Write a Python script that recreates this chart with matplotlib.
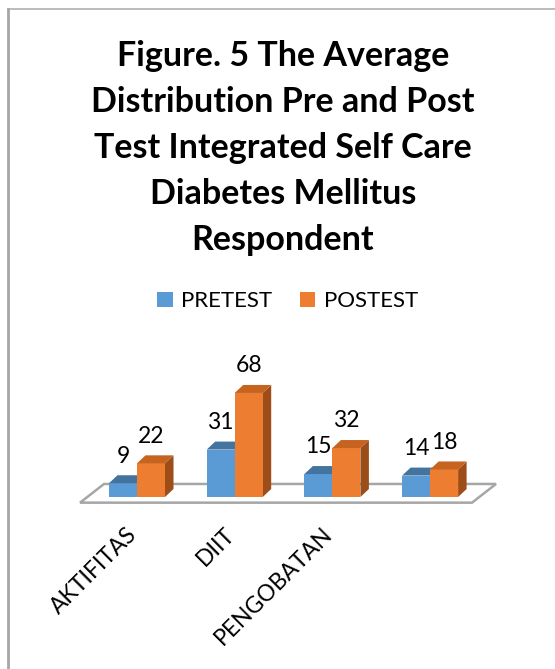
import numpy as np
import matplotlib
matplotlib.use("Agg")
import matplotlib.pyplot as plt
import matplotlib.transforms as mtransforms
from matplotlib.patches import Polygon
from matplotlib.lines import Line2D

categories = ["AKTIFITAS", "DIIT", "PENGOBATAN", ""]
pretest = [9, 31, 15, 14]
postest = [22, 68, 32, 18]
series_names = ["PRETEST", "POSTEST"]

plt.rcParams['font.family'] = ['Lato', 'DejaVu Sans']

W, H = 555, 669
fig = plt.figure(figsize=(W / 100, H / 100), dpi=100)

# plot area: category 0 at x=137px, 97.7px per category, y=0 at 497px, 1.53px per unit
px_cat, px_unit = 97.7, 1.53
xlim = (-0.6, 3.6)
ylim = (-5, 75)
left = (137 + xlim[0] * px_cat) / W
right = (137 + xlim[1] * px_cat) / W
bottom = (H - (497 - ylim[0] * px_unit)) / H
top = (H - (497 - ylim[1] * px_unit)) / H
ax = fig.add_axes([left, bottom, right - left, top - bottom])
ax.set_xlim(*xlim)
ax.set_ylim(*ylim)
for s in ax.spines.values():
    s.set_visible(False)
ax.set_yticks([])

bw = 28 / px_cat          # bar front width
dx = 8.5 / px_cat         # depth offset, x
dy = 8 / px_unit          # depth offset, y

# floor slab outline
fl_x0, fl_x1 = -0.583, 3.429
fl_y0 = -3.7
fd_x, fd_y = 24 / px_cat, 18.7 / px_unit
floor = Polygon([(fl_x0, fl_y0), (fl_x1, fl_y0), (fl_x1 + fd_x, fl_y0 + fd_y),
                 (fl_x0 + fd_x, fl_y0 + fd_y)], closed=True, facecolor='white',
                edgecolor='#a6a6a6', lw=1.8, zorder=1, clip_on=False)
ax.add_patch(floor)

x = np.arange(len(categories))
colors = [('#5b9bd5', '#43739f', '#3a6690'), ('#ed7d31', '#c5631f', '#9c4d18')]
bars = []
for k, vals in enumerate([pretest, postest]):
    front, topc, side = colors[k]
    xc = x + (k - 0.5) * bw
    b = ax.bar(xc, vals, width=bw, color=front, zorder=3 + k, label=series_names[k],
               clip_on=False)
    bars.append(b)
    for xi, v in zip(xc, vals):
        x0, x1 = xi - bw / 2, xi + bw / 2
        ax.add_patch(Polygon([(x0, v), (x1, v), (x1 + dx, v + dy), (x0 + dx, v + dy)],
                             facecolor=topc, edgecolor='none', zorder=3 + k, clip_on=False))
        ax.add_patch(Polygon([(x1, 0), (x1 + dx, dy), (x1 + dx, v + dy), (x1, v)],
                             facecolor=side, edgecolor='none', zorder=2.9 + k, clip_on=False))
        ax.annotate(str(v), (xi, v), xytext=(0, 19.5), textcoords='offset points',
                    ha='center', va='center', fontsize=16.5, color='black', zorder=10)

ax.set_xticks(x, categories, rotation=45, ha='right', va='top', rotation_mode='anchor',
              fontsize=16.5)
ax.tick_params(axis='x', length=0, pad=13.5)
shift = mtransforms.ScaledTranslation(-11 / 100, 0, fig.dpi_scale_trans)
for lab in ax.get_xticklabels():
    lab.set_transform(lab.get_transform() + shift)

title = ("Figure. 5 The Average\nDistribution Pre and Post\nTest Integrated Self Care\n"
         "Diabetes Mellitus\nRespondent")
fig.text(283 / W, 1 - 39.5 / H, title, ha='center', va='top', fontsize=24.5,
         fontweight='bold', linespacing=1.54)

ax.legend(handles=bars, loc='center', bbox_to_anchor=(288 / W, 1 - 301 / H),
          bbox_transform=fig.transFigure, ncol=2, frameon=False, fontsize=16,
          handlelength=0.68, handleheight=0.68, handletextpad=0.4, columnspacing=1.25,
          borderpad=0)

# outer chart border (top and left edges)
fig.add_artist(Line2D([8 / W, 1], [1 - 9 / H, 1 - 9 / H], color='#b0b0b0', lw=1.2))
fig.add_artist(Line2D([8 / W, 8 / W], [1 - 9 / H, 0], color='#a6a6a6', lw=2))

fig.savefig("out.png", dpi=100)
